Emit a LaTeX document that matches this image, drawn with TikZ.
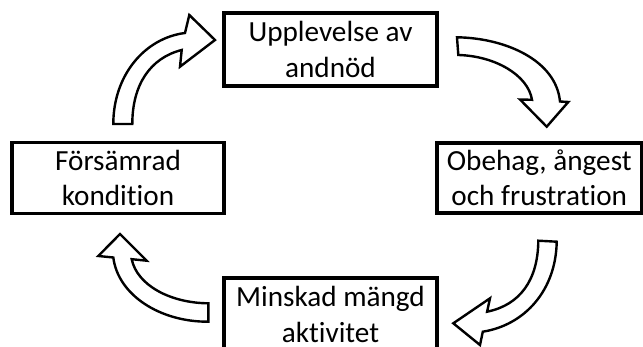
\documentclass[tikz,border=0pt]{standalone}
\usepackage{fontspec}
\setmainfont{Carlito}[Ligatures=NoCommon]

\begin{document}
\begin{tikzpicture}[x=1pt,y=-1pt,
  box/.style={draw,line width=3.2pt,inner sep=0pt,align=center,
    minimum width=213pt,minimum height=73pt,
    font=\fontsize{29.2}{35.5}\selectfont},
  blockarrow/.style={draw,fill=white,line width=2.4pt}]

\useasboundingbox (0,0) rectangle (643,347);

\node [box] (U) at (330.5,49.5) {Upplevelse av\\andnöd};
\node [box,minimum width=204.5pt,minimum height=70pt] (O) at (539.25,178) {Obehag, ångest\\och frustration};
\node [box] (M) at (330.5,314.5) {Minskad mängd\\aktivitet};
\node [box,minimum width=212pt,minimum height=71pt] (F) at (118,178) {Försämrad\\kondition};

% F -> U
\draw [blockarrow] (113.3,124) .. controls (113.3,75) and (145,38) .. (185,33)
  -- (189.3,15) -- (215,40) -- (180,66.7) -- (181.7,50)
  .. controls (150,58) and (132.3,85) .. (132.3,124) -- cycle;

% U -> O
\draw [blockarrow] (457,37.3) .. controls (505,38) and (556,60) .. (560,101.5)
  -- (568.3,102) -- (546.7,126.7) -- (520,99.5) -- (532,99.8)
  .. controls (528,75) and (495,56) .. (458.3,55) -- cycle;

% O -> M
\draw [blockarrow] (556.7,241.7) .. controls (556,290) and (525,325) .. (482.8,331.7)
  -- (480,345) -- (453.3,323.3) -- (490,298.3) -- (487.1,311.7)
  .. controls (520,305) and (538,280) .. (538.3,240.7) -- cycle;

% M -> F
\draw [blockarrow] (208.3,321.7) .. controls (160,322) and (118,295) .. (113.3,257.5)
  -- (98.3,256) -- (120,234) -- (146.7,260.7) -- (131.7,259.2)
  .. controls (137,285) and (170,303) .. (208.3,303.3) -- cycle;

\end{tikzpicture}
\end{document}
